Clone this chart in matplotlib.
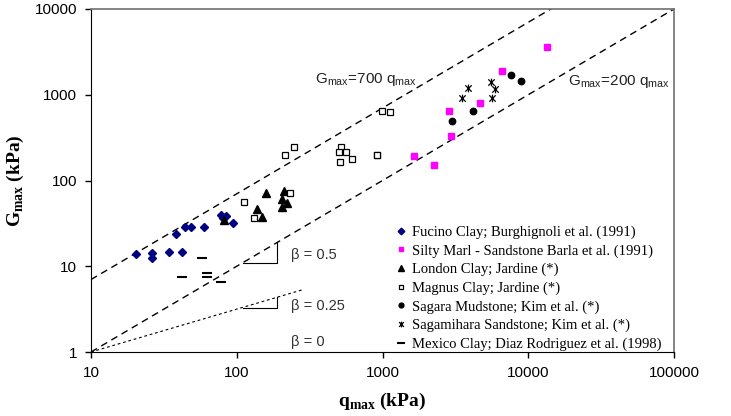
import numpy as np
import matplotlib
matplotlib.use('Agg')
import matplotlib.pyplot as plt
from matplotlib.path import Path

plt.rcParams['mathtext.fontset'] = 'custom'
plt.rcParams['mathtext.rm'] = 'Liberation Sans'
plt.rcParams['mathtext.bf'] = 'Liberation Serif:bold'

# data (q_max, G_max in kPa)
fucino_q = [20.4, 26.3, 26.1, 34.5, 41.9, 38.3, 44.0, 48.3, 59.3, 77.6, 84.0, 80.5, 93.8]
fucino_g = [13.8, 14.2, 12.6, 14.8, 14.8, 24.0, 28.9, 28.9, 28.9, 39.6, 38.5, 36.5, 32.2]

marl_q = [13450, 6640, 4666, 2858, 2951, 1644, 2256]
marl_g = [3575, 1876, 801, 646, 328, 193, 150]

london_q = [158, 212, 203, 222, 137, 148, 203, 81.3]
london_g = [70.9, 76.0, 60.4, 55.1, 46.1, 37.8, 49.5, 34.6]

magnus_q = [987, 1126, 248, 214, 519, 503, 562, 511, 621, 910, 920, 232, 112, 132]
magnus_g = [646, 624, 246, 198, 246, 213, 213, 163, 178, 200, 200, 71, 55.7, 36.3]

sagara_q = [7620, 8960, 4178, 3000]
sagara_g = [1700, 1435, 641, 494]

sagamihara_q = [3880, 3530, 5590, 5890, 5670]
sagamihara_g = [1208, 924, 1397, 1167, 924]

mexico_q = [57.5, 41.9, 62.2, 62.2, 77.6]
mexico_g = [12.4, 7.43, 8.41, 7.55, 6.61]

labels = ['Fucino Clay; Burghignoli et al. (1991)',
          'Silty Marl - Sandstone Barla et al. (1991)',
          'London Clay; Jardine (*)',
          'Magnus Clay; Jardine (*)',
          'Sagara Mudstone; Kim et al. (*)',
          'Sagamihara Sandstone; Kim et al. (*)',
          'Mexico Clay; Diaz Rodriguez et al. (1998)']

# slope triangles
tri_05_q = [110, 190, 190]
tri_05_g = [11, 11, 19]
tri_025_q = [110, 190, 190]
tri_025_g = [3.3, 3.3, 4.38]

star = Path([(-1, -1), (1, 1), (-1, 1), (1, -1), (0, -1.2), (0, 1.2)],
            [Path.MOVETO, Path.LINETO, Path.MOVETO, Path.LINETO, Path.MOVETO, Path.LINETO])

fig = plt.figure(figsize=(7.31, 4.16), dpi=100)
ax = fig.add_axes([91/731, 1 - 352/416, (674 - 91)/731, (352 - 9)/416])
ax.set_xscale('log')
ax.set_yscale('log')
ax.set_xlim(10, 100000)
ax.set_ylim(1, 10000)

# reference lines
q_line = np.array([10, 100000])
ax.plot(q_line, 0.7 * q_line, color='black', lw=1, dashes=(5, 3.5))
ax.plot(q_line, 0.1 * q_line, color='black', lw=1, dashes=(5, 3.5))
q_short = np.array([10, 285])
ax.plot(q_short, (q_short / 10) ** 0.5, color='black', lw=0.8, dashes=(2.5, 2.5))
ax.plot(tri_05_q, tri_05_g, color='black', lw=0.8)
ax.plot(tri_025_q, tri_025_g, color='black', lw=0.8)

ax.plot(fucino_q, fucino_g, 'D', color='#000080', ms=4.5, ls='none', label=labels[0])
ax.plot(marl_q, marl_g, 's', color='#FF00FF', ms=4.8, ls='none', label=labels[1])
ax.plot(london_q, london_g, '^', color='black', ms=5.5, ls='none', label=labels[2])
ax.plot(magnus_q, magnus_g, 's', mfc='white', mec='black', mew=0.9, ms=4.6, ls='none', label=labels[3])
ax.plot(sagara_q, sagara_g, 'o', color='black', ms=4.6, ls='none', label=labels[4])
ax.plot(sagamihara_q, sagamihara_g, marker=star, color='black', mew=0.9, ms=5.5, ls='none', label=labels[5])
ax.plot(mexico_q, mexico_g, '_', color='black', mew=1.5, ms=7, ls='none', label=labels[6])

ax.text(344, 1486, r'G$_{\mathrm{max}}$=700 q$_{\mathrm{max}}$', fontfamily='Liberation Sans',
        fontsize=11, ha='left', va='center', color='#222222')
ax.text(18760, 1409, r'G$_{\mathrm{max}}$=200 q$_{\mathrm{max}}$', fontfamily='Liberation Sans',
        fontsize=11, ha='left', va='center', color='#222222')
ax.text(235, 13.5, 'β = 0.5', fontfamily='Liberation Sans', fontsize=10.5, ha='left', va='center', color='#333333')
ax.text(235, 3.44, 'β = 0.25', fontfamily='Liberation Sans', fontsize=10.5, ha='left', va='center', color='#333333')
ax.text(235, 1.31, 'β = 0', fontfamily='Liberation Sans', fontsize=10.5, ha='left', va='center', color='#333333')

ax.set_xticks([10, 100, 1000, 10000, 100000])
ax.set_xticklabels(['10', '100', '1000', '10000', '100000'])
ax.set_yticks([1, 10, 100, 1000, 10000])
ax.set_yticklabels(['1', '10', '100', '1000', '10000'])
ax.minorticks_off()
ax.tick_params(direction='out', length=4, width=1, labelsize=11, pad=6)
for t in ax.get_xticklabels() + ax.get_yticklabels():
    t.set_fontfamily('Liberation Sans')

for s in ['left', 'bottom']:
    ax.spines[s].set_color('black')
for s in ['top', 'right']:
    ax.spines[s].set_color('#707070')
    ax.spines[s].set_linewidth(1.2)

ax.set_xlabel(r'$\mathbf{q}_{\mathbf{max}}$ (kPa)', fontfamily='Liberation Serif',
              fontweight='bold', fontsize=14, labelpad=8)
ax.set_ylabel(r'$\mathbf{G}_{\mathbf{max}}$ (kPa)', fontfamily='Liberation Serif',
              fontweight='bold', fontsize=14, labelpad=6)

leg = ax.legend(loc='upper left', bbox_to_anchor=(389/731, 1 - 218/416), bbox_transform=fig.transFigure,
                frameon=False, prop={'family': 'Liberation Serif', 'size': 10.5},
                handlelength=0.6, handletextpad=0.5, labelspacing=0.36, borderpad=0, markerscale=0.75)

fig.savefig('out.png', dpi=100)
